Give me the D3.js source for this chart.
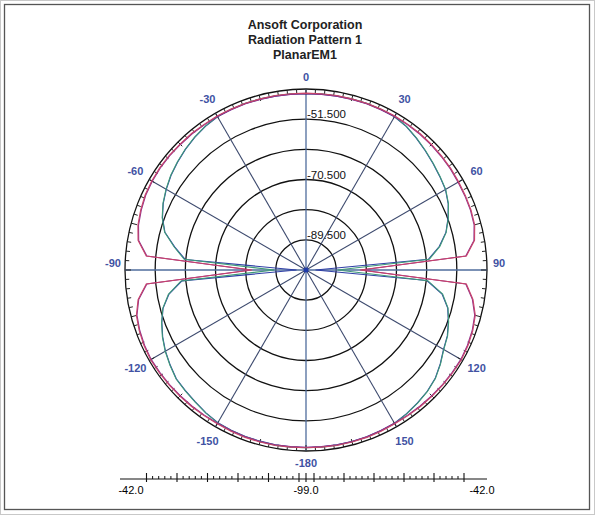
<!DOCTYPE html>
<html>
<head>
<meta charset="utf-8">
<script src="https://cdn.jsdelivr.net/npm/d3@7"></script>
<style>
  html, body { margin: 0; padding: 0; background: #fff; }
  svg { display: block; font-family: "Liberation Sans", Arial, sans-serif; }
</style>
</head>
<body>
<svg id="chart" width="595" height="515"></svg>
<script>
// ---- Chart data -------------------------------------------------------
const titleLines = ["Ansoft Corporation", "Radiation Pattern 1", "PlanarEM1"];

// Sweep angle (deg), 5-degree steps
const theta = [-180, -175, -170, -165, -160, -155, -150, -145, -140, -135, -130, -125,
  -120, -115, -110, -105, -100, -95, -90, -85, -80, -75, -70, -65, -60, -55, -50, -45,
  -40, -35, -30, -25, -20, -15, -10, -5, 0, 5, 10, 15, 20, 25, 30, 35, 40, 45, 50, 55,
  60, 65, 70, 75, 80, 85, 90, 95, 100, 105, 110, 115, 120, 125, 130, 135, 140, 145,
  150, 155, 160, 165, 170, 175, 180];

// Pattern traces (dB)
const traceRed = [-43.0, -43.0, -42.9, -42.9, -42.9, -43.0, -43.1, -43.0, -42.9, -42.8, -42.7, -42.6,
  -42.5, -42.7, -43.1, -43.7, -45.3, -48.5, -82.0, -48.5, -45.3, -44.2, -43.6, -43.1, -42.9, -42.8, -42.8, -42.9,
  -42.9, -43.0, -43.0, -43.1, -43.1, -43.2, -43.2, -43.3, -43.3, -43.3, -43.2, -43.2, -43.1, -43.1, -43.0, -43.0,
  -43.0, -43.1, -43.2, -43.3, -43.5, -43.6, -43.7, -44.0, -45.1, -48.3, -82.0, -48.3, -45.6, -43.8, -43.1, -42.7,
  -42.5, -42.6, -42.7, -42.8, -42.9, -43.0, -43.1, -43.0, -42.9, -42.9, -42.9, -43.0, -43.0];

const traceMagenta = [-43.2, -43.2, -43.1, -43.1, -43.1, -43.2, -43.3, -43.2, -43.1, -43.0, -42.9, -42.8,
  -42.7, -42.9, -43.3, -43.9, -45.5, -48.7, -81.5, -48.7, -45.5, -44.4, -43.8, -43.3, -43.1, -43.0, -43.0, -43.1,
  -43.1, -43.2, -43.2, -43.3, -43.3, -43.4, -43.4, -43.5, -43.5, -43.5, -43.4, -43.4, -43.3, -43.3, -43.2, -43.2,
  -43.2, -43.3, -43.4, -43.5, -43.7, -43.8, -43.9, -44.2, -45.3, -48.5, -81.5, -48.5, -45.8, -44.0, -43.3, -42.9,
  -42.7, -42.8, -42.9, -43.0, -43.1, -43.2, -43.3, -43.2, -43.1, -43.1, -43.1, -43.2, -43.2];

const traceGreen = [-43.0, -43.0, -43.0, -43.1, -43.1, -43.2, -43.4, -44.0, -44.7, -45.2, -45.6, -46.7,
  -47.8, -49.1, -50.6, -52.3, -55.0, -59.5, -89.0, -60.5, -56.8, -52.9, -50.8, -49.3, -48.1, -47.0, -46.1, -45.2,
  -44.4, -43.7, -43.2, -43.1, -43.1, -43.2, -43.3, -43.3, -43.4, -43.3, -43.3, -43.2, -43.1, -43.1, -43.2, -43.8,
  -44.8, -45.8, -46.7, -47.5, -48.2, -49.5, -51.3, -53.3, -56.2, -60.0, -89.0, -60.5, -55.3, -52.7, -51.2, -49.8,
  -48.9, -47.3, -45.8, -44.9, -44.3, -43.7, -43.2, -43.1, -43.0, -43.0, -43.0, -43.0, -43.0];

const traceBlue = [-43.1, -43.1, -43.1, -43.2, -43.2, -43.3, -43.5, -44.1, -44.8, -45.3, -45.7, -46.8,
  -47.9, -49.2, -50.7, -52.4, -55.2, -59.8, -96.0, -60.8, -57.0, -53.0, -50.9, -49.4, -48.2, -47.1, -46.2, -45.3,
  -44.5, -43.8, -43.3, -43.2, -43.2, -43.3, -43.4, -43.4, -43.5, -43.4, -43.4, -43.3, -43.2, -43.2, -43.3, -43.9,
  -44.9, -45.9, -46.8, -47.6, -48.3, -49.6, -51.4, -53.4, -56.4, -60.3, -96.0, -60.8, -55.5, -52.8, -51.3, -49.9,
  -49.0, -47.4, -45.9, -45.0, -44.4, -43.8, -43.3, -43.2, -43.1, -43.1, -43.1, -43.1, -43.1];

// Radial grid (dB) and labelled rings
const radialRange = [-99, -42];
const ringValues = [-89.5, -80, -70.5, -61, -51.5, -42];
const ringLabels = [-89.5, -70.5, -51.5];

// Angular grid
const spokeAngles = [0, 30, 60, 90, 120, 150, 180, 210, 240, 270, 300, 330];
const angleLabels = ["0", "30", "60", "90", "120", "150", "-180", "-150", "-120", "-90", "-60", "-30"];

// Bottom range bar
const barMajorLeft = [-51.5, -61, -70.5, -80, -89.5, -99];
const barMajorRight = [-99, -89.5, -80, -70.5, -61, -51.5];
const barLabels = ["-42.0", "-99.0", "-42.0"];

// ---- Drawing ----------------------------------------------------------
const svg = d3.select("#chart");
const cx = 306, cy = 270, R = 181;

// outer frame
svg.append("rect").attr("x", 0.5).attr("y", 0.5).attr("width", 594).attr("height", 514)
  .attr("fill", "#fff").attr("stroke", "#c8c8c8");
svg.append("rect").attr("x", 4.5).attr("y", 4.5).attr("width", 585).attr("height", 505)
  .attr("fill", "none").attr("stroke", "#555").attr("stroke-width", 1.3);

// title
svg.append("g").selectAll("text").data(titleLines).join("text")
  .attr("x", cx - 1).attr("y", (d, i) => 28.5 + i * 15)
  .attr("text-anchor", "middle").attr("font-size", 12.5).attr("font-weight", "bold")
  .attr("fill", "#222").text(d => d);

const r = d3.scaleLinear().domain(radialRange).range([0, R]).clamp(true);
const g = svg.append("g").attr("transform", `translate(${cx},${cy})`);

// rings
g.append("g").selectAll("circle").data(ringValues).join("circle")
  .attr("r", d => r(d)).attr("fill", "none").attr("stroke", "#111").attr("stroke-width", 1.3);

// spokes
g.append("g").selectAll("line").data(spokeAngles).join("line")
  .attr("x1", 0).attr("y1", 0)
  .attr("x2", d => R * Math.sin(d * Math.PI / 180))
  .attr("y2", d => -R * Math.cos(d * Math.PI / 180))
  .attr("stroke", d => d % 90 === 0 ? "#4f6c9c" : "#3d4a6e")
  .attr("stroke-width", d => d % 90 === 0 ? 1.3 : 1.1);

// angular ticks on the outer ring
const tickAngles = d3.range(0, 360, 3);
g.append("g").selectAll("line").data(tickAngles).join("line")
  .attr("x1", d => R * Math.sin(d * Math.PI / 180))
  .attr("y1", d => -R * Math.cos(d * Math.PI / 180))
  .attr("x2", d => (R - (d % 15 === 0 ? 6 : 4)) * Math.sin(d * Math.PI / 180))
  .attr("y2", d => -(R - (d % 15 === 0 ? 6 : 4)) * Math.cos(d * Math.PI / 180))
  .attr("stroke", "#222").attr("stroke-width", 1);

// traces
const series = [
  { vals: traceBlue, color: "#2f3fa6" },
  { vals: traceGreen, color: "#3f9a78" },
  { vals: traceMagenta, color: "#8e2f8c" },
  { vals: traceRed, color: "#c8436a" }
];
const line = d3.lineRadial()
  .angle(d => d.t * Math.PI / 180)
  .radius(d => r(d.v));
g.append("g").selectAll("path").data(series).join("path")
  .attr("d", s => line(theta.map((t, i) => ({ t, v: s.vals[i] }))))
  .attr("fill", "none").attr("stroke", s => s.color).attr("stroke-width", 1.1);

// centre marker
g.append("circle").attr("r", 2.5).attr("fill", "#1f3aa8");

// ring labels
g.append("g").selectAll("text").data(ringLabels).join("text")
  .attr("x", 1).attr("y", d => -r(d) - 1)
  .attr("font-size", 11.5).attr("fill", "#111")
  .text(d => d.toFixed(3));

// angle labels
g.append("g").selectAll("text").data(spokeAngles).join("text")
  .attr("text-anchor", "middle")
  .attr("x", d => {
    const rr = d % 90 === 0 ? 193 : 197;
    return rr * Math.sin(d * Math.PI / 180);
  })
  .attr("y", d => {
    const rr = d % 90 === 0 ? 193 : 197;
    const up = (d === 90 || d === 270) ? 7 : 0;
    return -rr * Math.cos(d * Math.PI / 180) - up;
  })
  .attr("dy", "0.36em")
  .attr("font-size", 11).attr("font-weight", "bold").attr("fill", "#4152a3")
  .text((d, i) => angleLabels[i]);

// bottom range bar
const barY = 479;
const xl = d3.scaleLinear().domain([-42, -99]).range([116, 299]);
const xr = d3.scaleLinear().domain([-99, -42]).range([314, 494]);
const bar = svg.append("g");
bar.append("line").attr("x1", 120).attr("x2", 487).attr("y1", barY).attr("y2", barY)
  .attr("stroke", "#111").attr("stroke-width", 1.2);
const majors = barMajorLeft.map(v => xl(v)).concat([cx], barMajorRight.map(v => xr(v)));
bar.selectAll("line.major").data(majors).join("line").attr("class", "major")
  .attr("x1", d => d).attr("x2", d => d).attr("y1", barY - 6).attr("y2", barY + 3)
  .attr("stroke", "#111").attr("stroke-width", 1.1);
const minors = [];
for (let k = 0; k < barMajorLeft.length - 1; k++) {
  for (let j = 1; j < 5; j++) {
    minors.push(xl(barMajorLeft[k] - j * 1.9));
    minors.push(xr(barMajorRight[k] + j * 1.9));
  }
}
bar.selectAll("line.minor").data(minors).join("line").attr("class", "minor")
  .attr("x1", d => d).attr("x2", d => d).attr("y1", barY - 3).attr("y2", barY)
  .attr("stroke", "#111").attr("stroke-width", 1);
bar.selectAll("text").data([xl(-42) + 15, cx, xr(-42) - 12]).join("text")
  .attr("x", d => d).attr("y", 494).attr("text-anchor", "middle")
  .attr("font-size", 11).attr("fill", "#000")
  .text((d, i) => barLabels[i]);
</script>
</body>
</html>
